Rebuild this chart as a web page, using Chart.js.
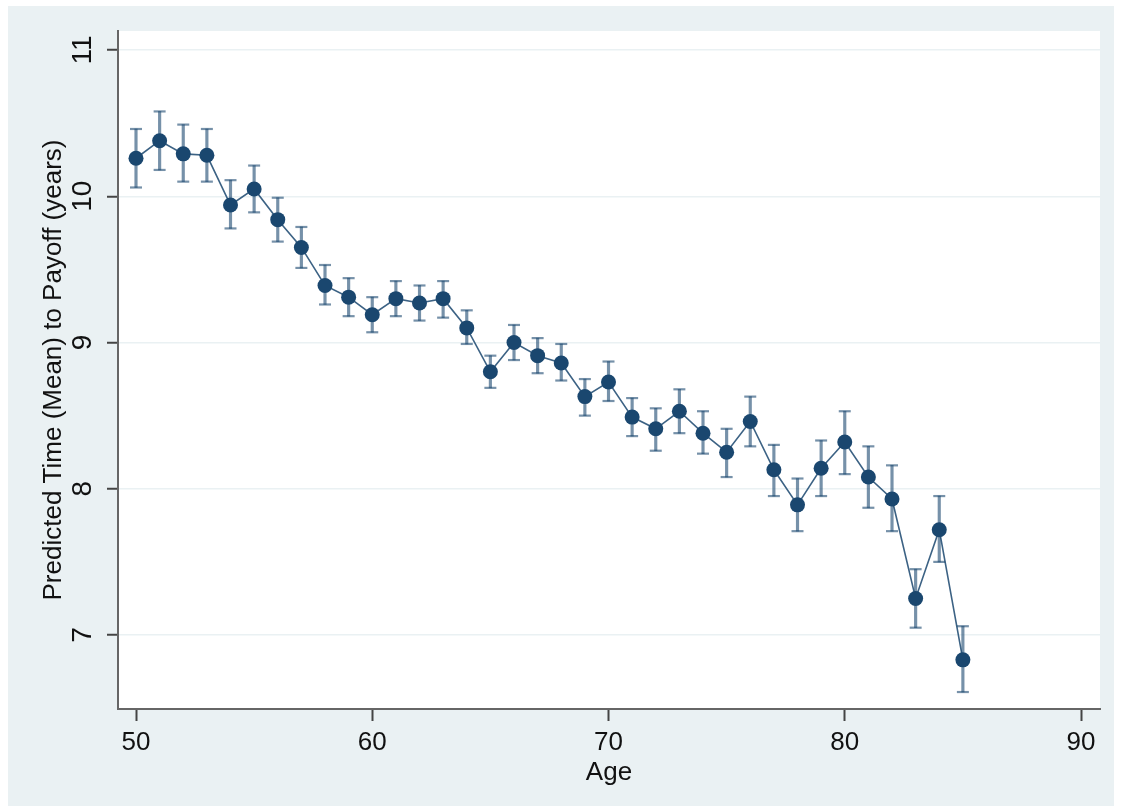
<!DOCTYPE html>
<html>
<head>
<meta charset="utf-8">
<script src="https://cdn.jsdelivr.net/npm/chart.js@4.4.1/dist/chart.umd.min.js"></script>
<style>
  html, body { margin: 0; padding: 0; background: #ffffff; }
  #c { display: block; }
</style>
</head>
<body>
<canvas id="c" width="1122" height="810"></canvas>
<script>
const ages = [50,51,52,53,54,55,56,57,58,59,60,61,62,63,64,65,66,67,68,69,70,71,72,73,74,75,76,77,78,79,80,81,82,83,84,85];
const means = [10.26,10.38,10.29,10.28,9.94,10.05,9.84,9.65,9.39,9.31,
               9.19,9.30,9.27,9.30,9.10,8.80,9.00,8.91,8.86,8.63,
               8.73,8.49,8.41,8.53,8.38,8.25,8.46,8.13,7.89,8.14,
               8.32,8.08,7.93,7.25,7.72,6.83];
const upper = [10.46,10.58,10.49,10.46,10.11,10.21,9.99,9.79,9.53,9.44,
               9.31,9.42,9.39,9.42,9.22,8.91,9.12,9.03,8.99,8.75,
               8.87,8.62,8.55,8.68,8.53,8.41,8.63,8.30,8.07,8.33,
               8.53,8.29,8.16,7.45,7.95,7.06];
const lower = [10.06,10.18,10.10,10.10,9.78,9.89,9.69,9.51,9.26,9.18,
               9.07,9.18,9.15,9.17,8.99,8.69,8.88,8.79,8.74,8.50,
               8.60,8.36,8.26,8.38,8.24,8.08,8.29,7.95,7.71,7.95,
               8.10,7.87,7.71,7.05,7.50,6.61];
const xTicks = [50,60,70,80,90];
const yTicks = [7,8,9,10,11];
const xTitle = 'Age';
const yTitle = 'Predicted Time (Mean) to Payoff (years)';

const NAVY = '#1a476f';
const BAR = 'rgba(26,71,111,0.6)';
const FONT = '"Liberation Sans", Arial, Helvetica, sans-serif';
const NARROW = '"Liberation Sans Narrow", "Arial Narrow", "Liberation Sans", Arial, sans-serif';

const bgPlugin = {
  id: 'bg',
  beforeDraw(chart) {
    const ctx = chart.ctx;
    const a = chart.chartArea;
    ctx.save();
    ctx.fillStyle = '#ffffff';
    ctx.fillRect(0, 0, chart.width, chart.height);
    ctx.fillStyle = '#eaf1f3';
    ctx.fillRect(8, 6, 1106, 800);
    ctx.fillStyle = '#ffffff';
    ctx.fillRect(a.left, a.top, a.right - a.left, a.bottom - a.top);
    ctx.restore();
  }
};

new Chart(document.getElementById('c'), {
  type: 'scatter',
  data: {
    datasets: [
      {
        type: 'line',
        data: ages.map((a, i) => ({x: a, y: means[i]})),
        borderColor: 'rgba(26,71,111,0.85)',
        borderWidth: 1.6,
        pointRadius: 7.5,
        pointBackgroundColor: NAVY,
        pointBorderColor: NAVY,
        pointBorderWidth: 0,
        tension: 0,
        fill: false,
        order: 0
      },
      {
        type: 'bar',
        data: ages.map((a, i) => ({x: a, y: [lower[i], upper[i]]})),
        backgroundColor: BAR,
        borderWidth: 0,
        barThickness: 2.5,
        order: 2
      },
      {
        type: 'scatter',
        data: ages.map((a, i) => ({x: a, y: upper[i]})),
        pointStyle: 'line',
        pointRadius: 6,
        borderColor: BAR,
        borderWidth: 2.2,
        order: 1
      },
      {
        type: 'scatter',
        data: ages.map((a, i) => ({x: a, y: lower[i]})),
        pointStyle: 'line',
        pointRadius: 6,
        borderColor: BAR,
        borderWidth: 2.2,
        order: 1
      }
    ]
  },
  options: {
    responsive: false,
    animation: false,
    devicePixelRatio: 1,
    layout: { padding: { top: 31, right: 22, left: 0, bottom: 0 } },
    plugins: { legend: { display: false }, tooltip: { enabled: false } },
    scales: {
      x: {
        type: 'linear',
        position: 'bottom',
        min: 49.238,
        max: 90.804,
        offset: false,
        afterFit(s) { s.height = 101; },
        afterBuildTicks(s) { s.ticks = xTicks.map(v => ({value: v})); },
        ticks: {
          includeBounds: false,
          padding: 6,
          color: '#111',
          font: { family: FONT, size: 26 },
          maxRotation: 0,
          autoSkip: false
        },
        grid: {
          drawOnChartArea: false,
          offset: false,
          tickLength: 12,
          tickColor: '#444',
          tickWidth: 2
        },
        border: { display: true, color: '#666', width: 2 },
        title: {
          display: true,
          text: xTitle,
          color: '#111',
          font: { family: FONT, size: 26 },
          padding: { top: 0, bottom: 22 }
        }
      },
      y: {
        type: 'linear',
        position: 'left',
        min: 6.494,
        max: 11.13,
        beginAtZero: false,
        afterFit(s) { s.width = 118; },
        afterBuildTicks(s) { s.ticks = yTicks.map(v => ({value: v})); },
        ticks: {
          includeBounds: false,
          minRotation: 90,
          maxRotation: 90,
          crossAlign: 'center',
          padding: 8,
          color: '#111',
          font: { family: NARROW, size: 28 },
          autoSkip: false
        },
        grid: {
          drawOnChartArea: true,
          color: '#eaf1f3',
          lineWidth: 1.5,
          tickLength: 11,
          tickColor: '#444',
          tickWidth: 2
        },
        border: { display: true, color: '#666', width: 2 },
        title: {
          display: true,
          text: yTitle,
          color: '#111',
          font: { family: FONT, size: 26 },
          padding: { top: 38, bottom: 0 }
        }
      }
    }
  },
  plugins: [bgPlugin]
});
</script>
</body>
</html>
